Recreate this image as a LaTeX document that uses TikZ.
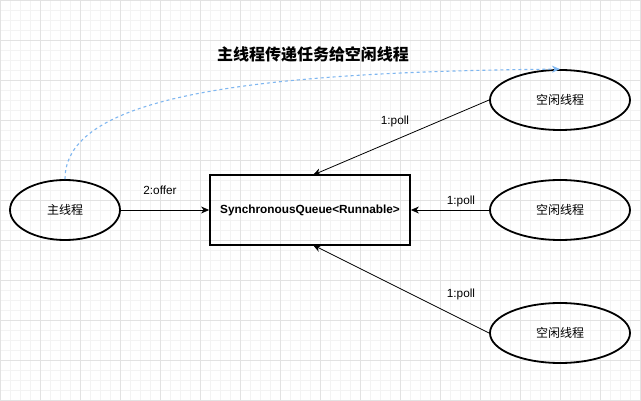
\documentclass[tikz,border=0pt]{standalone}
\usepackage{fontspec}
\setmainfont{Liberation Sans}
\newfontfamily\cjk{Noto Sans CJK SC}
\usetikzlibrary{arrows.meta,shapes.geometric}
\definecolor{gridminor}{HTML}{F3F3F3}
\definecolor{gridmajor}{HTML}{E2E2E2}
\definecolor{flowblue}{HTML}{7EB6F0}
\begin{document}
\begin{tikzpicture}[x=1pt,y=-1pt,
  thread/.style={ellipse,draw=black,line width=1.8pt,minimum width=140pt,minimum height=60pt,inner sep=0pt,font=\cjk\fontsize{12}{14}\selectfont},
  queuebox/.style={rectangle,draw=black,line width=1.8pt,minimum width=200pt,minimum height=70pt,inner sep=0pt,font=\bfseries\fontsize{11.8}{14}\selectfont},
  conn/.style={draw=black,line width=0.8pt,-{Stealth[length=8pt,width=7pt,inset=2.5pt]}},
  lbl/.style={font=\fontsize{11.8}{13}\selectfont,inner sep=0pt}
]
\useasboundingbox (0,0) rectangle (641,401);
\fill[white] (0,0) rectangle (641,401);
\foreach \i in {0,10,...,640} {\draw[gridminor,line width=0.6pt] (\i,0) -- (\i,401);}
\foreach \j in {0,10,...,400} {\draw[gridminor,line width=0.6pt] (0,\j) -- (641,\j);}
\foreach \i in {0,40,...,640} {\draw[gridmajor,line width=0.7pt] (\i,0) -- (\i,401);}
\foreach \j in {0,40,...,400} {\draw[gridmajor,line width=0.7pt] (0,\j) -- (641,\j);}

\node[font=\cjk\bfseries\fontsize{16}{18}\selectfont] (title) at (313,54) {主线程传递任务给空闲线程};

\node[thread,minimum width=110pt] (main) at (65,210) {主线程};
\node[queuebox] (queue) at (310,210) {SynchronousQueue<Runnable>};
\node[thread] (t1) at (560,100) {空闲线程};
\node[thread] (t2) at (560,210) {空闲线程};
\node[thread] (t3) at (560,333) {空闲线程};

\coordinate (qtop) at (313,175);
\coordinate (qbot) at (313,245);

\draw[conn] (main.east) -- (queue.west);
\draw[conn] (t1.west) -- (qtop);
\draw[conn] (t2.west) -- (queue.east);
\draw[conn] (t3.west) -- (qbot);

\node[lbl] (l0) at (160,190) {2:offer};
\node[lbl] (l1) at (395,121) {1:poll};
\node[lbl] (l2) at (461,201) {1:poll};
\node[lbl] (l3) at (461,294) {1:poll};

\draw[flowblue,line width=1.1pt,dash pattern=on 3pt off 3pt,-{Stealth[length=8pt,width=7pt,inset=2.5pt]}]
  (main.north) .. controls (65,100) and (230,72) .. (t1.north);
\end{tikzpicture}
\end{document}
